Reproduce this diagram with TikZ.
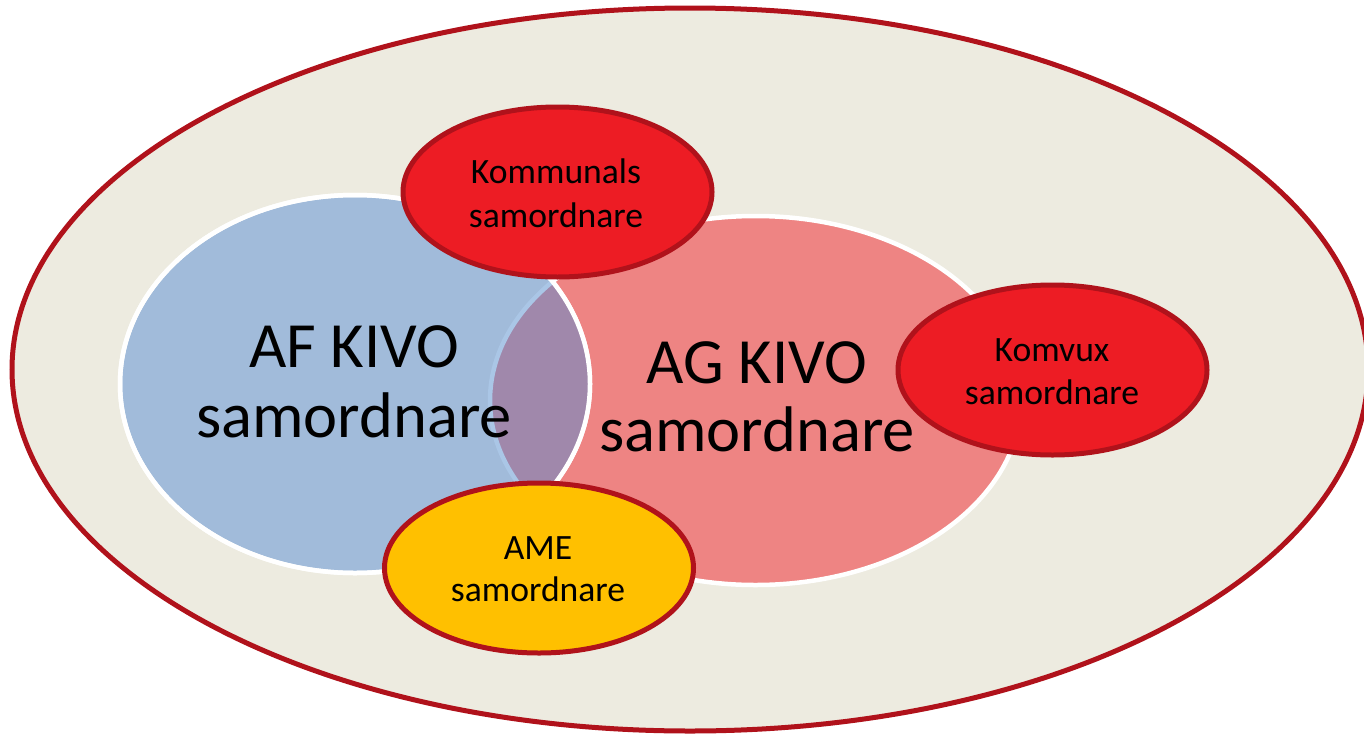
\documentclass[tikz,border=0pt]{standalone}
\usepackage{fontspec}
\setmainfont{Carlito}
\usetikzlibrary{shapes.geometric}
\definecolor{bgc}{HTML}{EDEBE0}
\definecolor{darkred}{HTML}{B0121B}
\definecolor{bluec}{HTML}{A1BBDA}
\definecolor{pinkc}{HTML}{EE8483}
\definecolor{purplec}{HTML}{A088AB}
\definecolor{edgeblue}{HTML}{AAC6E6}
\definecolor{redc}{HTML}{ED1C24}
\definecolor{yellowc}{HTML}{FFC000}
\tikzset{
  oval/.style={ellipse, inner sep=0pt, outer sep=0pt},
  setbox/.style={oval, draw=white, line width=4.5pt},
  rolebox/.style={oval, draw=darkred, line width=5pt, minimum width=309pt, minimum height=170pt},
  bigtxt/.style={inner sep=0pt, anchor=base, font=\fontsize{64.5}{70}\selectfont},
  smalltxt/.style={inner sep=0pt, anchor=base, font=\fontsize{35.6}{43}\selectfont}
}
\begin{document}
\begin{tikzpicture}[x=1pt,y=-1pt]
\useasboundingbox (0,0) rectangle (1364,736);
% outer ellipse
\node[oval, fill=bgc, draw=darkred, line width=5pt, minimum width=1356pt, minimum height=723pt] (outer) at (690,369.5) {};
% AG KIVO (pink)
\node[setbox, fill=pinkc, minimum width=531pt, minimum height=369pt] (ag) at (755.5,400.5) {};
% AF KIVO (blue)
\node[setbox, fill=bluec, minimum width=470pt, minimum height=378pt] (af) at (355,384) {};
% overlap lens
\begin{scope}
  \clip (355,384) ellipse [x radius=235pt, y radius=189pt];
  \fill[purplec] (755.5,400.5) ellipse [x radius=265.5pt, y radius=184.5pt];
  \draw[edgeblue, line width=4.5pt] (755.5,400.5) ellipse [x radius=265.5pt, y radius=184.5pt];
\end{scope}
\draw[white, line width=4.5pt] (355,384) ellipse [x radius=235pt, y radius=189pt];
% texts of big sets
\node[bigtxt] (af1) at (354,367) {AF KIVO};
\node[bigtxt] (af2) at (354,437) {samordnare};
\node[bigtxt] (ag1) at (757,383) {AG KIVO};
\node[bigtxt] (ag2) at (757,451) {samordnare};
% role ellipses
\node[rolebox, fill=redc] (kom) at (557.5,192) {};
\node[rolebox, fill=redc] (vux) at (1052.5,370) {};
\node[rolebox, fill=yellowc] (ame) at (539,568) {};
\node[smalltxt] (kom1) at (556,183) {Kommunals};
\node[smalltxt] (kom2) at (556,227) {samordnare};
\node[smalltxt] (vux1) at (1052,361) {Komvux};
\node[smalltxt] (vux2) at (1052,404) {samordnare};
\node[smalltxt] (ame1) at (538,559) {AME};
\node[smalltxt] (ame2) at (538,601) {samordnare};
\end{tikzpicture}
\end{document}
